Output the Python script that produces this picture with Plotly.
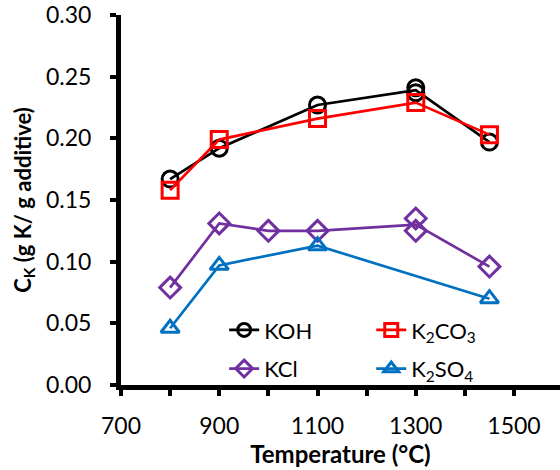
import plotly.graph_objects as go

# Potassium content per gram of additive vs. temperature
temps = [800, 900, 1100, 1300, 1450]
temps_kcl = [800, 900, 1000, 1100, 1300, 1450]
temps_k2so4 = [800, 900, 1100, 1450]

koh_mean = [0.167, 0.192, 0.227, 0.239, 0.197]
k2co3_mean = [0.158, 0.199, 0.216, 0.229, 0.203]
kcl_mean = [0.079, 0.131, 0.125, 0.125, 0.130, 0.096]
k2so4_mean = [0.046, 0.097, 0.113, 0.070]

# Individual measurements (duplicates at 1300 °C)
koh_x = [800, 900, 1100, 1300, 1300, 1450]
koh_y = [0.167, 0.192, 0.227, 0.241, 0.237, 0.197]
k2co3_x = [800, 900, 1100, 1300, 1450]
k2co3_y = [0.158, 0.199, 0.216, 0.229, 0.203]
kcl_x = [800, 900, 1000, 1100, 1300, 1300, 1450]
kcl_y = [0.079, 0.131, 0.125, 0.125, 0.135, 0.125, 0.096]
k2so4_x = [800, 900, 1100, 1450]
k2so4_y = [0.046, 0.097, 0.113, 0.070]

series = [
    ("KOH", "#000000", "circle-open", temps, koh_mean, koh_x, koh_y, "legend"),
    ("K<sub>2</sub>CO<sub>3</sub>", "#FF0000", "square-open", temps, k2co3_mean, k2co3_x, k2co3_y, "legend2"),
    ("KCl", "#7030A0", "diamond-open", temps_kcl, kcl_mean, kcl_x, kcl_y, "legend"),
    ("K<sub>2</sub>SO<sub>4</sub>", "#0070C0", "triangle-up-open", temps_k2so4, k2so4_mean, k2so4_x, k2so4_y, "legend2"),
]

FONT = "Lato"
fig = go.Figure()
for i, (name, color, sym, lx, ly, mx, my, leg) in enumerate(series):
    fig.add_trace(go.Scatter(x=lx, y=ly, mode="lines", line=dict(color=color, width=2.7),
                             showlegend=False, hoverinfo="skip"))
    fig.add_trace(go.Scatter(x=mx, y=my, mode="markers", showlegend=False,
                             marker=dict(symbol=sym, size=16, color=color, line=dict(width=3, color=color))))
    # legend entry: line with marker
    fig.add_trace(go.Scatter(x=[None], y=[None], mode="lines+markers", name=name, legend=leg,
                             legendgroup="g%d" % i,
                             line=dict(color=color, width=2.7),
                             marker=dict(symbol=sym, size=13, color=color, line=dict(width=3, color=color))))

legend_common = dict(yanchor="top", y=0.205, bgcolor="rgba(0,0,0,0)",
                     font=dict(size=22), tracegroupgap=7, itemwidth=30)

fig.update_layout(
    width=560, height=470,
    margin=dict(l=121, r=0, t=15, b=85),
    plot_bgcolor="white", paper_bgcolor="white",
    font=dict(family=FONT, size=23, color="black"),
    legend=dict(x=0.235, xanchor="left", **legend_common),
    legend2=dict(x=0.57, xanchor="left", **legend_common),
    xaxis=dict(range=[700, 1593.6], tick0=700, dtick=200, showgrid=False, zeroline=False,
               showline=True, linecolor="black", linewidth=5,
               ticks="outside", ticklen=6, tickwidth=4, tickcolor="black", ticklabelstandoff=10,
               minor=dict(dtick=100, tick0=700, ticks="outside", ticklen=6, tickwidth=4, tickcolor="black"),
               title=dict(text="<b>Temperature (°C)</b>", font=dict(size=24), standoff=0)),
    yaxis=dict(range=[0, 0.30], dtick=0.05, tickformat=".2f", showgrid=False, zeroline=False,
               showline=True, linecolor="black", linewidth=5,
               ticks="outside", ticklen=6, tickwidth=4, tickcolor="black", ticklabelstandoff=14,
               title=dict(text="<b>C<sub>K</sub> (g K/ g additive)</b>", font=dict(size=22), standoff=10)),
)

fig.write_html("out.html")
